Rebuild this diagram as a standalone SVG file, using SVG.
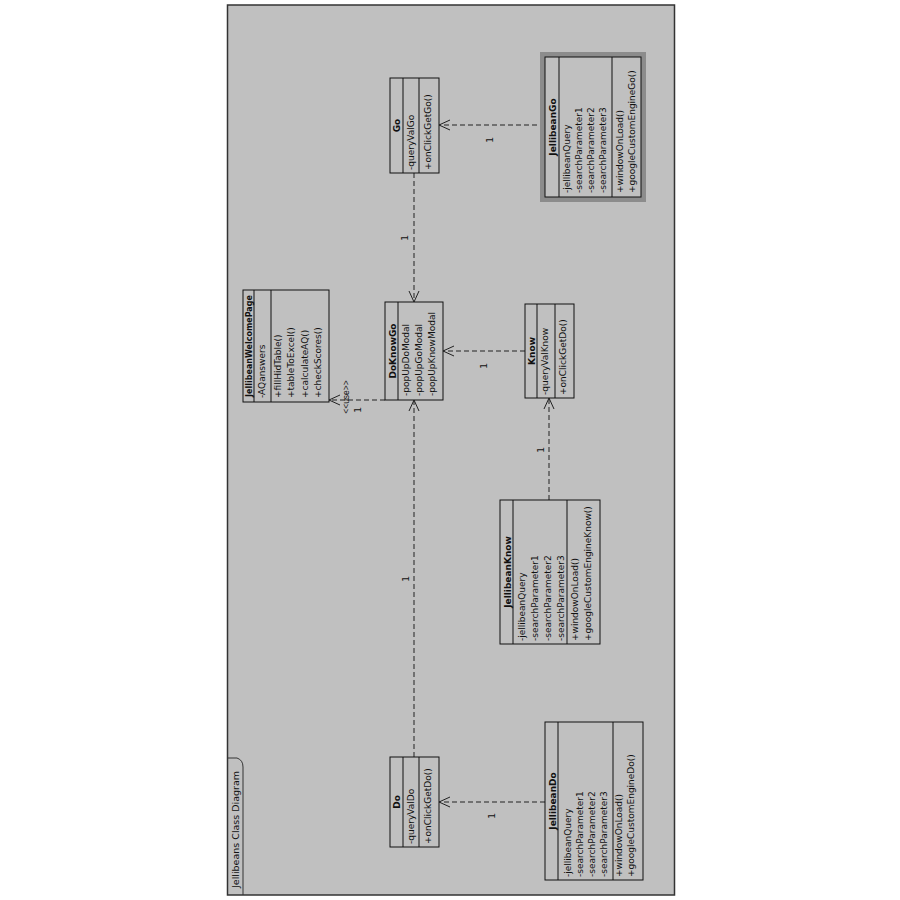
<svg xmlns="http://www.w3.org/2000/svg" width="900" height="900" viewBox="0 0 900 900">
<style>
.box{fill:none;stroke:#111;stroke-width:1}
.dv{stroke:#111;stroke-width:1}
.t{font-family:"DejaVu Sans","Liberation Sans",Arial,sans-serif;font-size:9px;fill:#111}
.n{font-weight:bold;text-anchor:middle}
.c{stroke:#222;stroke-width:1;stroke-dasharray:5 3;fill:none}
.a{stroke:#222;stroke-width:1;fill:none}
.l{font-family:"DejaVu Sans","Liberation Sans",Arial,sans-serif;font-size:9px;fill:#111;text-anchor:middle}
</style>
<rect x="0" y="0" width="900" height="900" fill="#ffffff"/>
<g id="frame">
<rect x="227.5" y="5" width="447" height="890" fill="#c0c0c0" stroke="#333" stroke-width="1.5"/>
<path d="M227.5,758 L237,758 Q243,760 243,767 L243,895" fill="none" stroke="#333" stroke-width="1"/>
<text class="t" style="font-size:9.5px" transform="translate(239,888) rotate(-90)">Jellibeans Class Diagram</text>
</g>
<g id="connectors">
<line class="c" x1="545" y1="125" x2="440" y2="125"/>
<polyline class="a" points="450,120 439,125 450,130"/>
<text class="l" transform="translate(493,140) rotate(-90)">1</text>
<line class="c" x1="414" y1="173" x2="414" y2="301"/>
<polyline class="a" points="409,291 414,302 419,291"/>
<text class="l" transform="translate(408,238) rotate(-90)">1</text>
<line class="c" x1="414" y1="757" x2="414" y2="401"/>
<polyline class="a" points="409,411 414,400 419,411"/>
<text class="l" transform="translate(409,579) rotate(-90)">1</text>
<line class="c" x1="525" y1="351" x2="444" y2="351"/>
<polyline class="a" points="454,346 443,351 454,356"/>
<text class="l" transform="translate(487,366) rotate(-90)">1</text>
<line class="c" x1="549" y1="500" x2="549" y2="399"/>
<polyline class="a" points="544,409 549,398 554,409"/>
<text class="l" transform="translate(544,450) rotate(-90)">1</text>
<line class="c" x1="545" y1="802" x2="440" y2="802"/>
<polyline class="a" points="450,797 439,802 450,807"/>
<text class="l" transform="translate(495,816) rotate(-90)">1</text>
<line class="c" x1="385" y1="400" x2="330" y2="400"/>
<polyline class="a" points="340,395 329,400 340,405"/>
<text class="l" style="font-family:'Liberation Sans',Arial,sans-serif;font-size:8.5px" transform="translate(349,397) rotate(-90)">&lt;&lt;use&gt;&gt;</text>
<text class="l" transform="translate(361,410) rotate(-90)">1</text>
</g>
<g id="JellibeanGo">
<rect x="542.5" y="54.5" width="101" height="145" fill="none" stroke="#8c8c8c" stroke-width="5"/>
<rect class="box" x="545" y="57" width="96" height="140"/>
<line class="dv" x1="559" y1="57" x2="559" y2="197"/>
<line class="dv" x1="612" y1="57" x2="612" y2="197"/>
<text class="t n" transform="translate(556,127) rotate(-90)">JellibeanGo</text>
<text class="t" transform="translate(570,193) rotate(-90)">-jellibeanQuery</text>
<text class="t" transform="translate(582,193) rotate(-90)">-searchParameter1</text>
<text class="t" transform="translate(594,193) rotate(-90)">-searchParameter2</text>
<text class="t" transform="translate(606,193) rotate(-90)">-searchParameter3</text>
<text class="t" transform="translate(623,193) rotate(-90)">+windowOnLoad()</text>
<text class="t" transform="translate(635,193) rotate(-90)">+googleCustomEngineGo()</text>
</g>
<g id="Go">
<rect class="box" x="390" y="78" width="49" height="95"/>
<line class="dv" x1="403" y1="78" x2="403" y2="173"/>
<line class="dv" x1="419" y1="78" x2="419" y2="173"/>
<text class="t n" transform="translate(400,125.5) rotate(-90)">Go</text>
<text class="t" transform="translate(414,170) rotate(-90)">-queryValGo</text>
<text class="t" transform="translate(431,170) rotate(-90)">+onClickGetGo()</text>
</g>
<g id="JellibeanWelcomePage">
<rect class="box" x="243" y="290" width="86" height="112"/>
<line class="dv" x1="254" y1="290" x2="254" y2="402"/>
<line class="dv" x1="271" y1="290" x2="271" y2="402"/>
<text class="t n" style="font-size:8px" transform="translate(252,346) rotate(-90)">JellibeanWelcomePage</text>
<text class="t" transform="translate(265,398) rotate(-90)">-AQanswers</text>
<text class="t" transform="translate(280.5,398) rotate(-90)">+fillHidTable()</text>
<text class="t" transform="translate(294,398) rotate(-90)">+tableToExcel()</text>
<text class="t" transform="translate(307.5,398) rotate(-90)">+calculateAQ()</text>
<text class="t" transform="translate(321,398) rotate(-90)">+checkScores()</text>
</g>
<g id="DoKnowGo">
<rect class="box" x="385" y="302" width="58" height="98"/>
<line class="dv" x1="398" y1="302" x2="398" y2="400"/>
<text class="t n" transform="translate(396,351) rotate(-90)">DoKnowGo</text>
<text class="t" transform="translate(409,396) rotate(-90)">-popUpDoModal</text>
<text class="t" transform="translate(422,396) rotate(-90)">-popUpGoModal</text>
<text class="t" transform="translate(435,396) rotate(-90)">-popUpKnowModal</text>
</g>
<g id="Know">
<rect class="box" x="525" y="304" width="49" height="94"/>
<line class="dv" x1="537" y1="304" x2="537" y2="398"/>
<line class="dv" x1="555" y1="304" x2="555" y2="398"/>
<text class="t n" transform="translate(535,351) rotate(-90)">Know</text>
<text class="t" transform="translate(548,395) rotate(-90)">-queryValKnow</text>
<text class="t" transform="translate(566,395) rotate(-90)">+onClickGetDo()</text>
</g>
<g id="JellibeanKnow">
<rect class="box" x="500" y="500" width="100" height="144"/>
<line class="dv" x1="513" y1="500" x2="513" y2="644"/>
<line class="dv" x1="567" y1="500" x2="567" y2="644"/>
<text class="t n" transform="translate(510.5,572) rotate(-90)">JellibeanKnow</text>
<text class="t" transform="translate(524.5,641) rotate(-90)">-jellibeanQuery</text>
<text class="t" transform="translate(537.5,641) rotate(-90)">-searchParameter1</text>
<text class="t" transform="translate(550.5,641) rotate(-90)">-searchParameter2</text>
<text class="t" transform="translate(563.5,641) rotate(-90)">-searchParameter3</text>
<text class="t" transform="translate(578,641) rotate(-90)">+windowOnLoad()</text>
<text class="t" transform="translate(591,641) rotate(-90)">+googleCustomEngineKnow()</text>
</g>
<g id="Do">
<rect class="box" x="390" y="757" width="49" height="90"/>
<line class="dv" x1="403" y1="757" x2="403" y2="847"/>
<line class="dv" x1="419" y1="757" x2="419" y2="847"/>
<text class="t n" transform="translate(400,802) rotate(-90)">Do</text>
<text class="t" transform="translate(414,844) rotate(-90)">-queryValDo</text>
<text class="t" transform="translate(431,844) rotate(-90)">+onClickGetDo()</text>
</g>
<g id="JellibeanDo">
<rect class="box" x="545" y="722" width="98" height="158"/>
<line class="dv" x1="558" y1="722" x2="558" y2="880"/>
<line class="dv" x1="613" y1="722" x2="613" y2="880"/>
<text class="t n" transform="translate(555.5,801) rotate(-90)">JellibeanDo</text>
<text class="t" transform="translate(571,877) rotate(-90)">-jellibeanQuery</text>
<text class="t" transform="translate(583,877) rotate(-90)">-searchParameter1</text>
<text class="t" transform="translate(595,877) rotate(-90)">-searchParameter2</text>
<text class="t" transform="translate(607,877) rotate(-90)">-searchParameter3</text>
<text class="t" transform="translate(622,877) rotate(-90)">+windowOnLoad()</text>
<text class="t" transform="translate(634,877) rotate(-90)">+googleCustomEngineDo()</text>
</g>
</svg>
